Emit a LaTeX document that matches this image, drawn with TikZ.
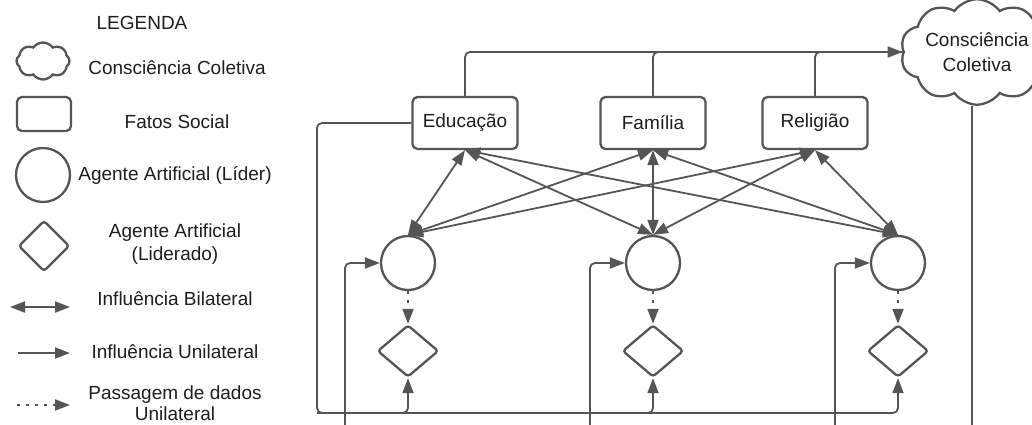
\documentclass[tikz,border=0pt]{standalone}
\usepackage{fontspec}
\setmainfont{Liberation Sans}
\usetikzlibrary{arrows.meta,shapes.symbols,shapes.geometric}
\definecolor{ln}{RGB}{85,85,85}
\definecolor{tx}{RGB}{30,30,30}

\begin{document}
\begin{tikzpicture}[x=1pt,y=-1pt,
  every node/.style={text=tx, font=\fontsize{19}{23}\selectfont},
  shp/.style={draw=ln, line width=2.3pt},
  fact/.style={shp, rounded corners=5pt, minimum width=105pt, minimum height=52pt, inner sep=0},
  leader/.style={shp, circle, minimum size=54pt, inner sep=0},
  led/.style={shp, diamond, aspect=1.18, minimum width=61pt, minimum height=52pt, inner sep=0, rounded corners=3pt},
  conn/.style={draw=ln, line width=1.8pt},
  bi/.style={conn, {Triangle[length=15pt,width=11pt]}-{Triangle[length=15pt,width=11pt]}},
  uni/.style={conn, -{Triangle[length=15pt,width=11pt]}, rounded corners=5pt},
  dotarrow/.style={conn, dash pattern=on 3pt off 6pt, -{Triangle[length=15pt,width=11pt]}},
  cloudbox/.style={shp, cloud, cloud puffs=10, cloud puff arc=110, inner sep=0, align=center},
]
\useasboundingbox (0,0) rectangle (1032,425);
\fill[white] (0,0) rectangle (1032,425);

% ---------- legend ----------
\node (lgTitle) at (142,23) {LEGENDA};

\node[cloudbox, cloud puffs=8, aspect=1.45, minimum width=53pt, minimum height=37pt] (lgCloud) at (43,61) {};
\node (lgCloudTx) at (177,68) {Consciência Coletiva};

\node[shp, rounded corners=5pt, minimum width=54pt, minimum height=34pt, inner sep=0] (lgRect) at (44,114) {};
\node (lgRectTx) at (177,122) {Fatos Social};

\node[leader] (lgCirc) at (43,175) {};
\node (lgCircTx) at (175,175) {Agente Artificial (Líder)};

\node[led, aspect=1, minimum width=51pt, minimum height=51pt] (lgDia) at (44,246) {};
\node[align=center] (lgDiaTx) at (175,244) {Agente Artificial\\(Liderado)};

\coordinate (lgBiA) at (10,307);
\coordinate (lgBiB) at (70,307);
\draw[bi] (lgBiA) -- (lgBiB);
\node (lgBiTx) at (175,299) {Influência Bilateral};

\coordinate (lgUniA) at (18,353);
\coordinate (lgUniB) at (70,353);
\draw[uni] (lgUniA) -- (lgUniB);
\node (lgUniTx) at (175,352) {Influência Unilateral};

\coordinate (lgDotA) at (17,405);
\coordinate (lgDotB) at (70,405);
\draw[dotarrow] (lgDotA) -- (lgDotB);
\node[align=center, font=\fontsize{19}{21}\selectfont] (lgDotTx) at (175,403) {Passagem de dados\\Unilateral};

% ---------- social facts ----------
\node[fact] (edu) at (465,123) {Educação};
\node[fact] (fam) at (653,123) {Família};
\node[fact] (rel) at (815,123) {Religião};

% ---------- collective consciousness ----------
\node[cloudbox, aspect=1.7, minimum width=150pt, minimum height=88pt, font=\fontsize{19}{25}\selectfont] (cc) at (977,52) {Consciência\\Coletiva};

% ---------- agents ----------
\foreach \i/\x in {1/408,2/653,3/898}{
  \node[leader] (c\i) at (\x,263) {};
  \node[led] (d\i) at (\x,351) {};
  \draw[dotarrow] (c\i.south) -- (d\i.north);
}

% facts feed the collective consciousness
\draw[uni] (edu.north) |- (cc.west);
\draw[conn, rounded corners=5pt] (fam.north) |- (cc.west);
\draw[conn, rounded corners=5pt] (rel.north) |- (cc.west);

% line leaving the cloud downwards
\coordinate (ccDown) at (972,440);
\draw[conn] (cc.south -| ccDown) -- (ccDown);

% bilateral influence between facts and leaders
\foreach \b in {edu,fam,rel}{
  \foreach \c in {c1,c2,c3}{
    \draw[bi] (\b.south) -- (\c.north);
  }
}

% feedback from Educação to the led agents
\coordinate (fb) at (317,413);
\draw[uni] (edu.west) -| (fb) -| (d3.south);
\draw[uni] (fb) -| (d1.south);
\draw[uni] (fb) -| (d2.south);

% external inputs into the leaders
\coordinate (in1) at (345,440);
\coordinate (in2) at (590,440);
\coordinate (in3) at (835,440);
\draw[uni] (in1) |- (c1.west);
\draw[uni] (in2) |- (c2.west);
\draw[uni] (in3) |- (c3.west);
\end{tikzpicture}
\end{document}
